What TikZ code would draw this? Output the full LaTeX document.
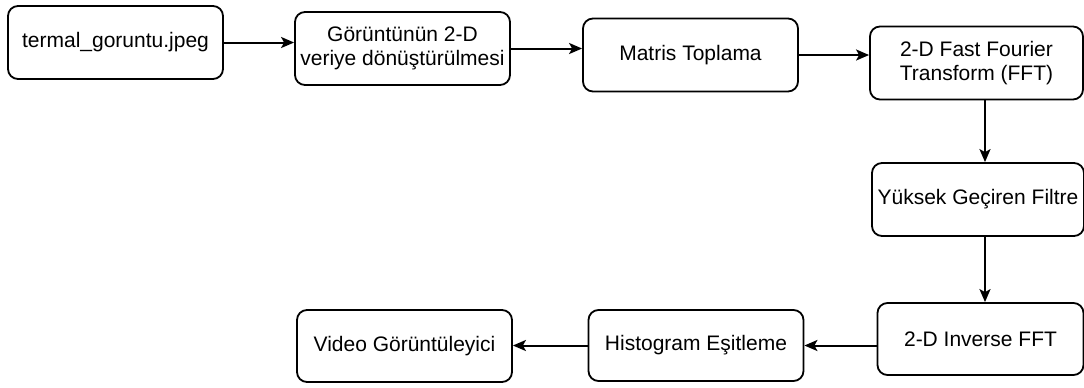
\documentclass[tikz,border=0pt]{standalone}
\usepackage{fontspec}
\setmainfont{Liberation Sans}
\usetikzlibrary{arrows.meta,positioning}

\begin{document}
\begin{tikzpicture}[x=0.5pt,y=-0.5pt,>={Stealth[length=6.5pt,width=5.5pt,inset=1.5pt]},
    box/.style = {draw, rounded corners=5pt, line width=0.9pt, align=center, inner sep=0pt,
                  minimum width=107.5pt, minimum height=36.5pt,
                  font=\fontsize{10.5}{11.8}\selectfont},
    link/.style = {->, line width=1pt}]
    \useasboundingbox (0,0) rectangle (1084,387);

    % obere Reihe
    \node[box] (termal) at (115.5,42.5) {termal\_goruntu.jpeg};
    \node[box] (donusum) at (402.5,48.5) {Görüntünün 2-D\\veriye dönüştürülmesi};
    \node[box] (matris) at (690.5,55) {Matris Toplama};
    \node[box, minimum width=106.5pt] (fft) at (976.5,63) {2-D Fast Fourier\\Transform (FFT)};

    % rechte Spalte
    \node[box, minimum width=106pt] (filtre) at (978,199.5) {Yüksek Geçiren Filtre};
    \node[box, minimum width=103pt, minimum height=36pt] (ifft) at (980.5,339) {2-D Inverse FFT};

    % untere Reihe
    \node[box, minimum height=35.5pt] (histogram) at (696,345.5) {Histogram Eşitleme};
    \node[box, minimum height=36pt] (video) at (404.5,346) {Video Görüntüleyici};

    % Pfeile
    \coordinate (spalte) at (985,0);
    \draw[link] (termal.east) -- (termal.east -| donusum.west);
    \draw[link] (donusum.east) -- (donusum.east -| matris.west);
    \draw[link] (matris.east) -- (matris.east -| fft.west);
    \draw[link] (fft.south -| spalte) -- (filtre.north -| spalte);
    \draw[link] (filtre.south -| spalte) -- (ifft.north -| spalte);
    \draw[link] (ifft.west |- histogram.east) -- (histogram.east);
    \draw[link] (histogram.west) -- (histogram.west -| video.east);

\end{tikzpicture}
\end{document}
